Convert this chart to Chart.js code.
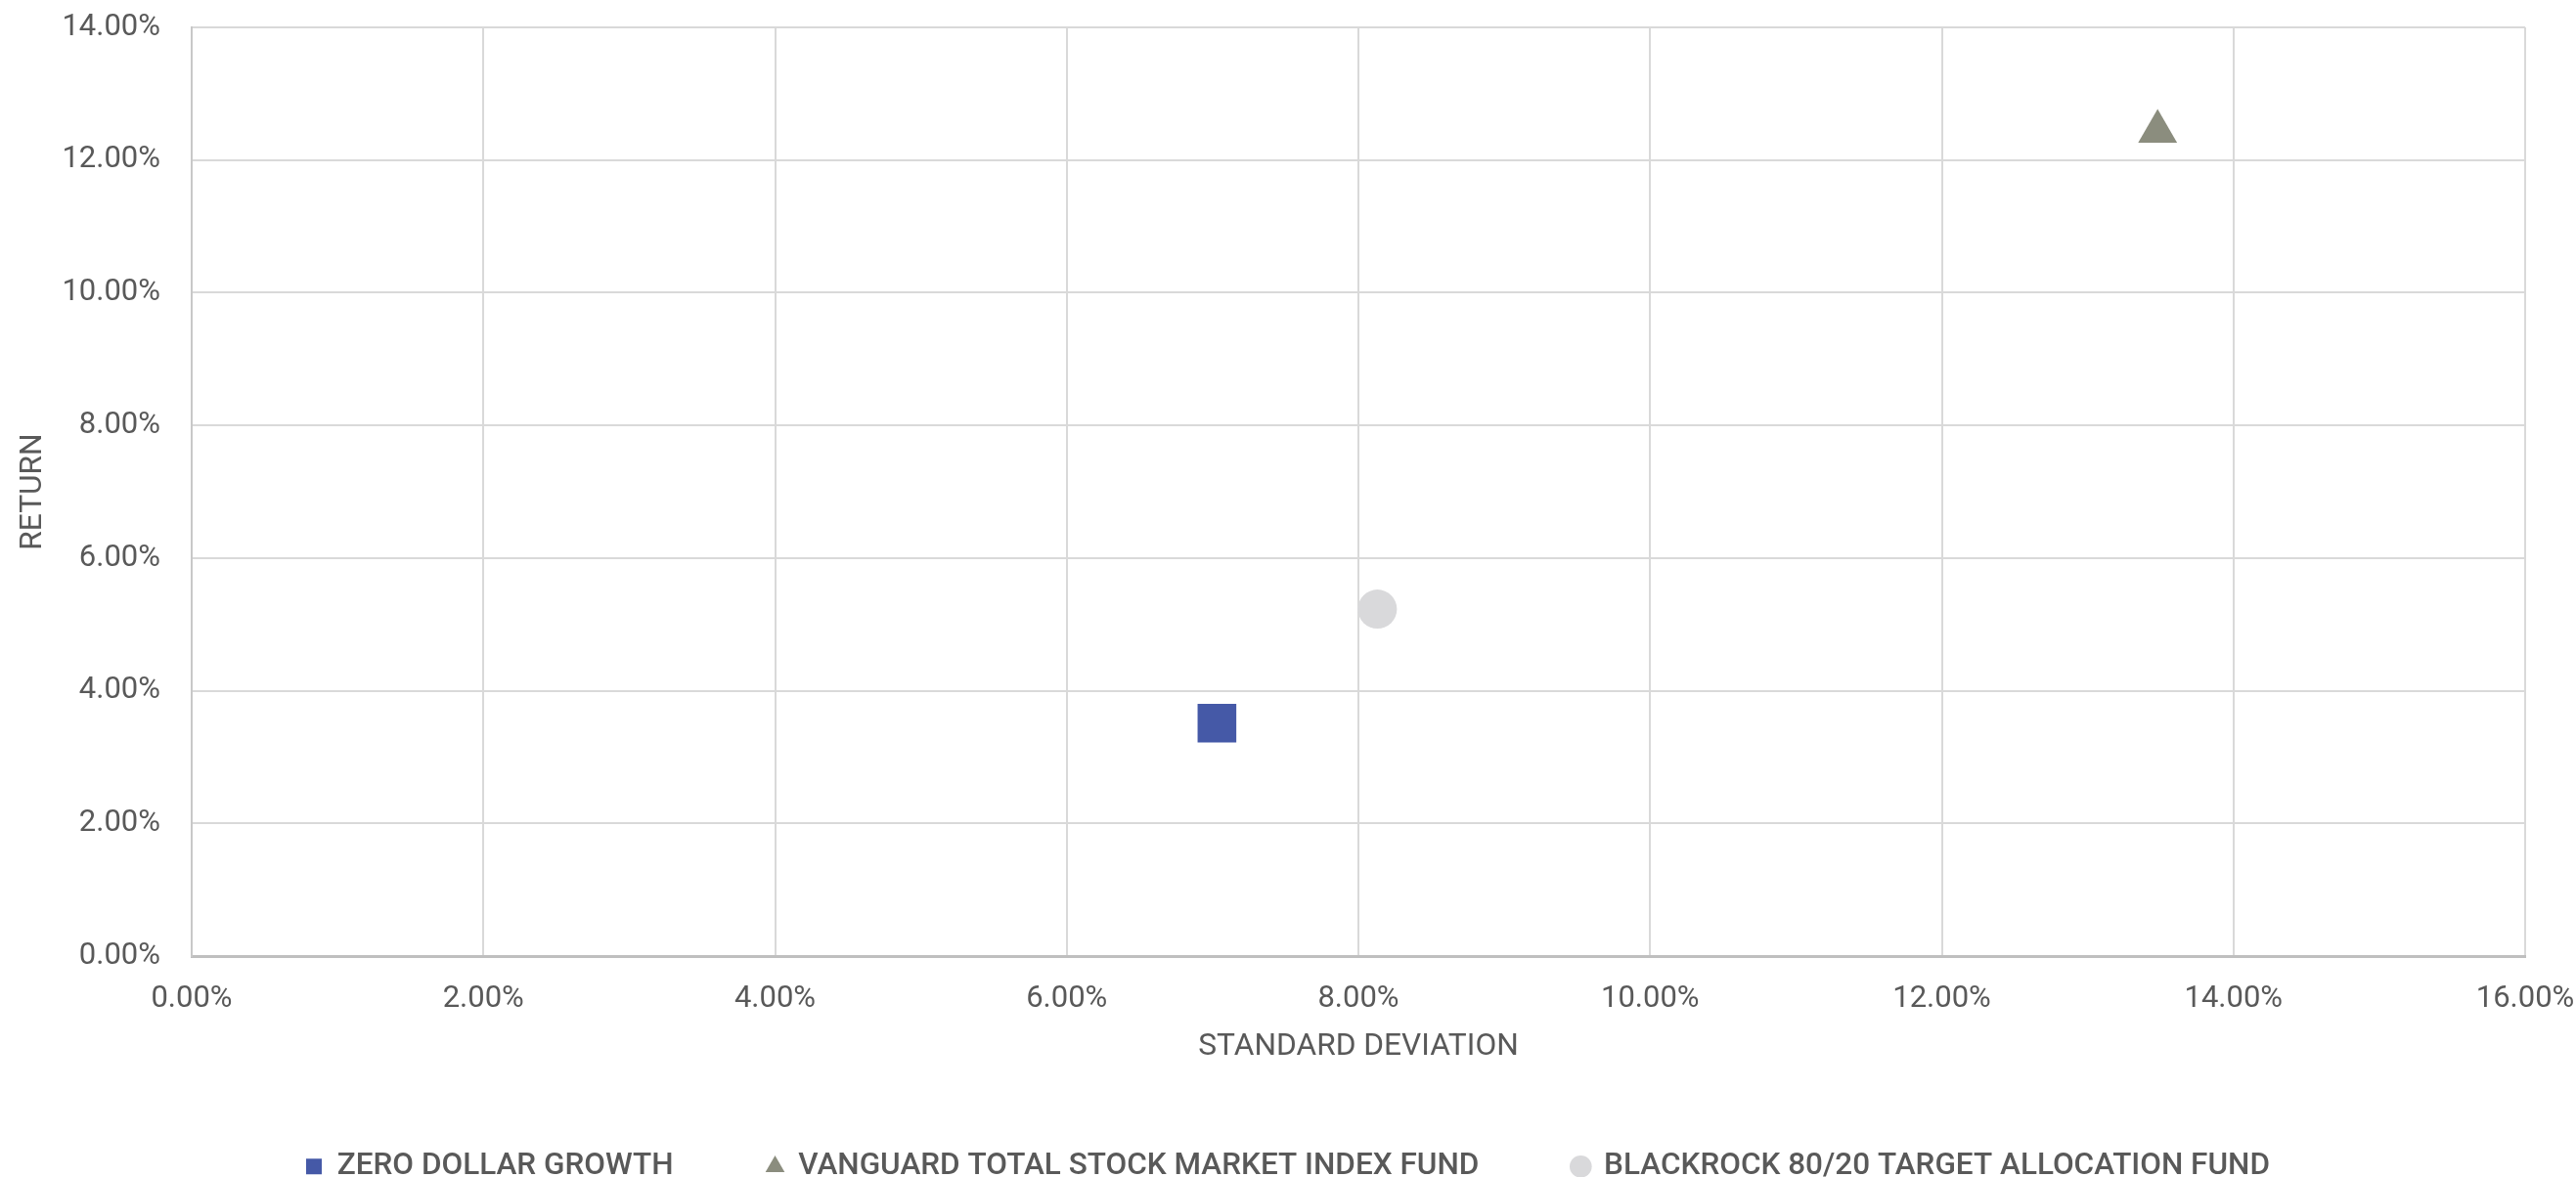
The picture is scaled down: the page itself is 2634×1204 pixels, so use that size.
<!DOCTYPE html>
<html>
<head>
<meta charset="utf-8">
<script src="https://cdn.jsdelivr.net/npm/chart.js@4/dist/chart.umd.min.js"></script>
<style>
  html,body{margin:0;padding:0;background:#fff;overflow:hidden}
  #wrap{position:relative;width:2634px;height:1204px}
</style>
</head>
<body>
<div id="wrap"><canvas id="risk"></canvas></div>
<script>
/* 데이터 — 표준편차(%) / 수익률(%) */
const fundNames = ['ZERO DOLLAR GROWTH', 'VANGUARD TOTAL STOCK MARKET INDEX FUND', 'BLACKROCK 80/20 TARGET ALLOCATION FUND'];
const stdDev    = [7.03, 13.48, 8.13];
const returns   = [3.51, 12.43, 5.23];
const xTicks    = [0, 2, 4, 6, 8, 10, 12, 14, 16];
const yTicks    = [0, 2, 4, 6, 8, 10, 12, 14];

/* 스타일 */
const markerStyle  = ['rect', 'triangle', 'circle'];
const markerColor  = ['#4559a7', '#8b8d7e', '#d9d9db'];
const markerRadius = [28, 23, 20];

const FONT = 'Roboto';
const TXT  = '#595959';
const pct  = v => v.toFixed(2) + '%';

const datasets = fundNames.map((name, i) => ({
  label: name,
  data: [{x: stdDev[i], y: returns[i]}],
  pointStyle: markerStyle[i],
  backgroundColor: markerColor[i],
  borderColor: markerColor[i],
  borderWidth: 0,
  pointRadius: markerRadius[i],
  pointHoverRadius: markerRadius[i]
}));

new Chart(document.getElementById('risk'), {
  type: 'scatter',
  data: {datasets},
  options: {
    responsive: true, maintainAspectRatio: false,
    animation: false, events: [],
    layout: {padding: {top: 27, right: 0, bottom: -15, left: 0}},
    plugins: {
      tooltip: {enabled: false},
      legend: {
        position: 'bottom',
        labels: {
          usePointStyle: true, boxWidth: 16, boxHeight: 16, padding: 96,
          color: TXT, font: {family: FONT, size: 31.5, weight: 500}
        }
      }
    },
    scales: {
      x: {
        type: 'linear', min: xTicks[0], max: xTicks[xTicks.length - 1],
        afterBuildTicks: s => { s.ticks = xTicks.map(v => ({value: v})); },
        // 범례 위쪽 여백과 겹치게 높이 고정
        afterFit: s => { s.height = 103.5; s.paddingRight = 52; s.paddingLeft = 0; },
        ticks: {color: TXT, padding: 26, maxRotation: 0, font: {family: FONT, size: 31}, callback: pct},
        grid: {color: '#d9d9d9', lineWidth: 2, drawTicks: false},
        border: {color: '#bfbfbf', width: 3},
        title: {display: true, text: 'STANDARD DEVIATION', color: TXT,
                font: {family: FONT, size: 31.7}, padding: {top: 0, bottom: -9}}
      },
      y: {
        type: 'linear', min: yTicks[0], max: yTicks[yTicks.length - 1],
        afterBuildTicks: s => { s.ticks = yTicks.map(v => ({value: v})); },
        afterFit: s => { s.width = 196; s.paddingTop = 0; s.paddingBottom = 0; },
        ticks: {color: TXT, padding: 32, font: {family: FONT, size: 31}, callback: pct},
        grid: {color: '#d9d9d9', lineWidth: 2, drawTicks: false},
        border: {color: '#c8c8c8', width: 2},
        title: {display: true, text: 'RETURN', color: TXT,
                font: {family: FONT, size: 31.7}, padding: {top: 15, bottom: 0}}
      }
    }
  }
});
</script>
</body>
</html>
